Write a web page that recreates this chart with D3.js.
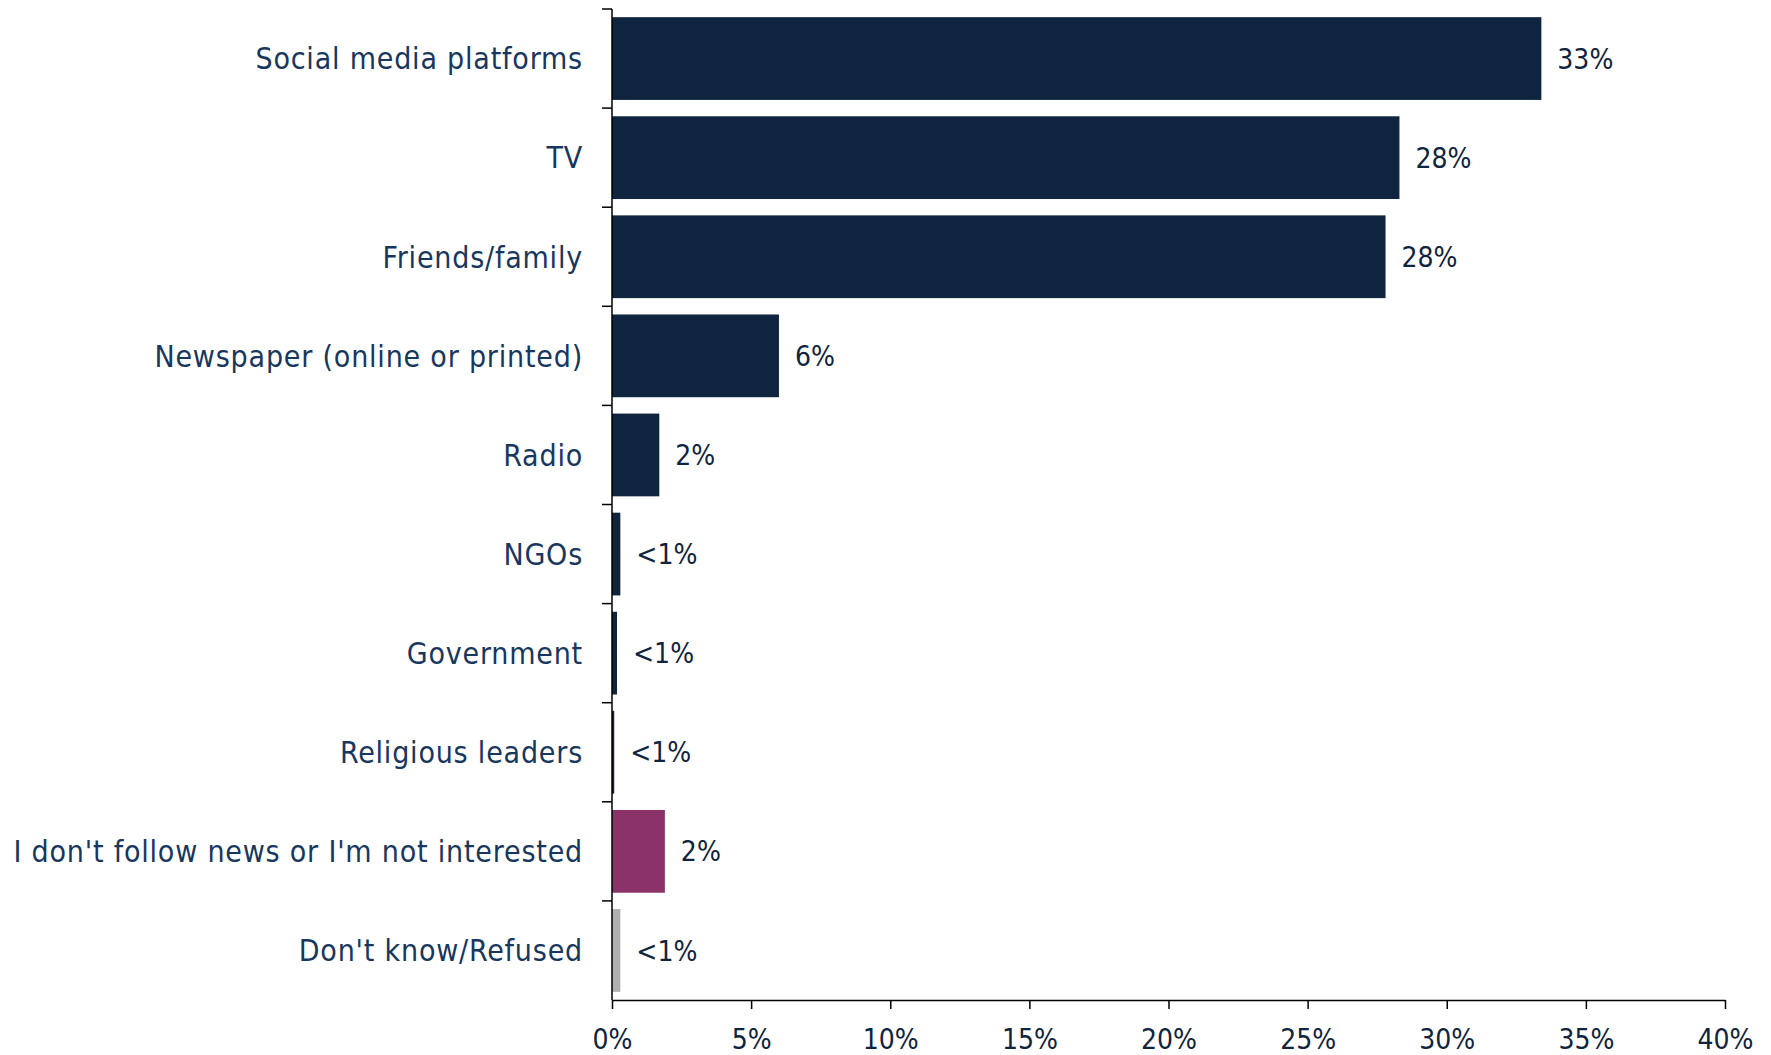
<!DOCTYPE html>
<html><head><meta charset="utf-8">
<script src="https://cdn.jsdelivr.net/npm/d3@7"></script>
<style>body{margin:0;background:#fff}svg{display:block}</style>
</head><body>
<script>
const categories = ["Social media platforms","TV","Friends/family","Newspaper (online or printed)","Radio","NGOs","Government","Religious leaders","I don't follow news or I'm not interested","Don't know/Refused"];
const values = [33.4, 28.3, 27.8, 6.0, 1.7, 0.3, 0.18, 0.08, 1.9, 0.3];
const valueLabels = ["33%","28%","28%","6%","2%","<1%","<1%","<1%","2%","<1%"];
const barColors = ["#0F243E","#0F243E","#0F243E","#0F243E","#0F243E","#0F243E","#0F243E","#0F243E","#8B3269","#B0B0B0"];
const xTicks = [0,5,10,15,20,25,30,35,40];

const W = 1771, H = 1055;
const m = {left: 612, top: 9, right: 46, bottom: 55};
const svg = d3.select("body").append("svg").attr("width", W).attr("height", H);
const font = "'DejaVu Sans Condensed','DejaVu Sans',sans-serif";

const x = d3.scaleLinear().domain([0,40]).range([m.left, W - m.right]);
const y = d3.scaleBand().domain(categories).range([m.top, H - m.bottom]).paddingInner(0.165).paddingOuter(0.0825);
const step = y.step();

svg.selectAll("rect.bar").data(categories).join("rect")
  .attr("x", x(0)).attr("y", d => y(d))
  .attr("width", (d,i) => x(values[i]) - x(0))
  .attr("height", y.bandwidth())
  .attr("fill", (d,i) => barColors[i]);

svg.selectAll("text.val").data(categories).join("text")
  .attr("x", (d,i) => x(values[i]) + 16)
  .attr("y", d => y(d) + y.bandwidth()/2)
  .attr("dy", "0.36em")
  .attr("font-family", font).attr("font-size", 28).attr("fill", "#0F243E")
  .text((d,i) => valueLabels[i]);

// category labels
svg.selectAll("text.cat").data(categories).join("text")
  .attr("x", m.left - 29)
  .attr("y", d => y(d) + y.bandwidth()/2)
  .attr("dy", "0.36em")
  .attr("text-anchor", "end")
  .attr("font-family", font).attr("font-size", 30).attr("letter-spacing", 0.8).attr("fill", "#17375E")
  .text(d => d);

// y axis line and boundary ticks
const yTop = m.top, yBot = H - m.bottom;
svg.append("line").attr("x1", x(0)).attr("x2", x(0)).attr("y1", yTop).attr("y2", yBot).attr("stroke", "#000").attr("stroke-width", 1.5);
svg.selectAll("line.yt").data(d3.range(categories.length)).join("line")
  .attr("x1", x(0) - 10).attr("x2", x(0))
  .attr("y1", i => yTop + i*step).attr("y2", i => yTop + i*step)
  .attr("stroke", "#000").attr("stroke-width", 1.5);

// x axis
const xa = svg.append("g").attr("transform", `translate(0,${yBot})`)
  .call(d3.axisBottom(x).tickValues(xTicks).tickFormat(d => d + "%").tickSize(9).tickSizeOuter(0).tickPadding(20));
xa.select(".domain").attr("stroke", "#000").attr("stroke-width", 1.5);
xa.selectAll(".tick line").attr("stroke", "#000").attr("stroke-width", 1.5);
xa.selectAll(".tick text").attr("font-family", font).attr("font-size", 28).attr("fill", "#0F243E");
</script>
</body></html>
